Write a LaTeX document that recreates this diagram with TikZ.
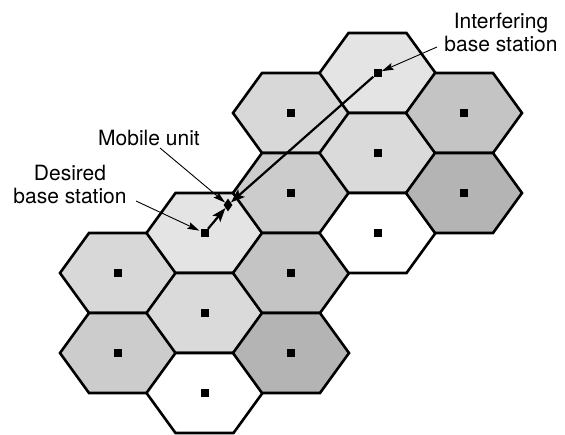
\documentclass[tikz,border=0pt]{standalone}
\usepackage{fontspec}
\setmainfont{TeX Gyre Heros}
\usetikzlibrary{arrows.meta,shapes.geometric}

% shades of the seven-cell reuse pattern
\definecolor{cell0}{HTML}{D8D8D8}
\definecolor{cell1}{HTML}{E4E4E4}
\definecolor{cell2}{HTML}{CCCCCC}
\definecolor{cell3}{HTML}{DADADA}
\definecolor{cell4}{HTML}{C4C4C4}
\definecolor{cell5}{HTML}{FFFFFF}
\definecolor{cell6}{HTML}{B4B4B4}

\begin{document}
\begin{tikzpicture}[x=1pt,y=-1pt,
  cell/.style={draw=black,line width=2.6pt,line join=miter},
  station/.style={fill=black,draw=none,inner sep=0pt,minimum size=8pt},
  mobilenode/.style={diamond,fill=black,draw=none,inner sep=0pt,minimum width=9pt,minimum height=13pt},
  lbl/.style={font=\fontsize{21}{23}\selectfont,inner sep=0pt,align=center},
  pointer/.style={line width=0.9pt,-{Stealth[length=12pt,width=7pt,inset=2pt]}},
  link/.style={line width=2.2pt,-{Stealth[length=14pt,width=10pt,inset=3pt]}}
]
\useasboundingbox (0,0) rectangle (565,434);
\fill[white] (0,0) rectangle (565,434);

% hexagonal cells: column q, row s; shade index (q+2s) mod 7
\foreach \q/\s in {0/0,0/1,1/0,1/1,1/2,2/-1,2/0,2/1,2/2,3/-1,3/0,3/1,4/0,4/1}{
  \pgfmathtruncatemacro\ci{mod(\q+2*\s+14,7)}
  \pgfmathtruncatemacro\t{\s+1}
  \pgfmathsetmacro\cx{118+86.5*\q}
  \pgfmathsetmacro\cy{273-40*\q+80*\s}
  \draw[cell,fill=cell\ci] (\cx-58,\cy) -- (\cx-29,\cy-40) -- (\cx+29,\cy-40)
        -- (\cx+58,\cy) -- (\cx+29,\cy+40) -- (\cx-29,\cy+40) -- cycle;
  \node[station] (bs-\q-\t) at (\cx,\cy) {};
}

% mobile unit
\node[mobilenode] (mobile) at (228,205) {};

% signal paths to the mobile
\draw[link] (bs-1-1) -- (mobile);
\draw[link] (bs-3-0) -- (mobile);

% labels
\node[lbl,anchor=north] (intf) at (501,12.5) {Interfering\\base station};
\coordinate (intf-tail) at (437,47);
\draw[pointer] (intf-tail) -- (bs-3-0);

\node[lbl,anchor=base] (mob) at (149,145) {Mobile unit};
\coordinate (mob-tail) at (160,148);
\draw[pointer] (mob-tail) -- (mobile);

\node[lbl,anchor=north] (des) at (70,164.5) {Desired\\base station};
\coordinate (des-tail) at (136,201);
\draw[pointer,shorten >=1pt] (des-tail) -- (bs-1-1);
\end{tikzpicture}
\end{document}
